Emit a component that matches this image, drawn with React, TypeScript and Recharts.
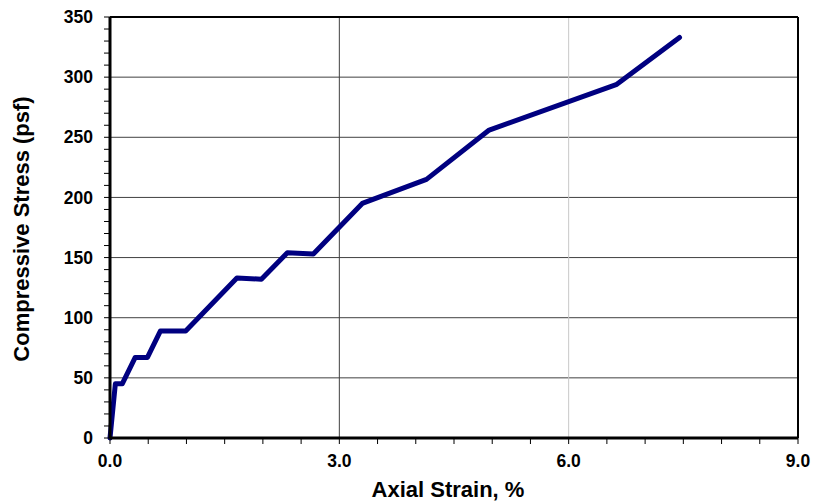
import React from 'react';
import { LineChart, Line, XAxis, YAxis, ReferenceLine, Label } from 'recharts';

// Unconfined compression test: axial strain (%) vs. compressive stress (psf)
const strainPct = [0, 0.07, 0.16, 0.33, 0.49, 0.66, 0.99, 1.66, 1.98, 2.32, 2.66, 3.3, 4.14, 4.96, 6.63, 7.45];
const stressPsf = [0, 45, 45, 67, 67, 89, 89, 133, 132, 154, 153, 195, 215, 256, 294, 333];

const xTicks = [0, 0.5, 1, 1.5, 2, 2.5, 3, 3.5, 4, 4.5, 5, 5.5, 6, 6.5, 7, 7.5, 8, 8.5, 9];
const xLabeled = [0, 3, 6, 9];
const yTicks = Array.from({ length: 36 }, (_, i) => i * 10);
const yLabeled = [0, 50, 100, 150, 200, 250, 300, 350];
const yGrid = [50, 100, 150, 200, 250, 300];

const data = strainPct.map((s, i) => ({ strain: s, stress: stressPsf[i] }));

const FONT = "Arial, 'Liberation Sans', sans-serif";
const tickStyle = { fill: '#000', fontSize: 17.5, fontWeight: 'bold', fontFamily: FONT };

export default function App() {
  return (
    <div style={{ position: 'absolute', left: 0, top: 0, background: '#fff' }}>
      <LineChart width={822} height={501} data={data} margin={{ top: 17, right: 24, bottom: 0, left: 0 }}>
        <XAxis
          dataKey="strain"
          type="number"
          domain={[0, 9]}
          ticks={xTicks}
          interval={0}
          tickFormatter={(v: number) => (xLabeled.includes(v) ? v.toFixed(1) : '')}
          tick={tickStyle}
          tickSize={6}
          tickMargin={11}
          tickLine={{ stroke: '#000', strokeWidth: 1 }}
          axisLine={{ stroke: '#000', strokeWidth: 3 }}
          height={63}
        >
          <Label
            content={() => (
              <text x={448} y={497} textAnchor="middle" fontFamily={FONT} fontWeight="bold" fontSize={22} fill="#000">
                Axial Strain, %
              </text>
            )}
          />
        </XAxis>
        <YAxis
          type="number"
          domain={[0, 350]}
          ticks={yTicks}
          interval={0}
          tickFormatter={(v: number) => (yLabeled.includes(v) ? String(v) : '')}
          tick={tickStyle}
          tickSize={6}
          tickMargin={11}
          tickLine={{ stroke: '#000', strokeWidth: 1 }}
          axisLine={{ stroke: '#000', strokeWidth: 3 }}
          width={110}
        >
          <Label
            content={() => (
              <text
                x={29}
                y={229}
                transform="rotate(-90 29 229)"
                textAnchor="middle"
                fontFamily={FONT}
                fontWeight="bold"
                fontSize={22}
                fill="#000"
              >
                Compressive Stress (psf)
              </text>
            )}
          />
        </YAxis>
        {yGrid.map((v) => (
          <ReferenceLine key={'h' + v} y={v} stroke="#404040" strokeWidth={1} ifOverflow="visible" />
        ))}
        <ReferenceLine x={3} stroke="#404040" strokeWidth={1} />
        <ReferenceLine x={6} stroke="#c8c8c8" strokeWidth={1} />
        <ReferenceLine y={350} stroke="#000" strokeWidth={2} />
        <ReferenceLine x={9} stroke="#000" strokeWidth={2} />
        <Line
          type="linear"
          dataKey="stress"
          stroke="#000080"
          strokeWidth={5}
          strokeLinecap="round"
          strokeLinejoin="round"
          dot={false}
          isAnimationActive={false}
        />
      </LineChart>
    </div>
  );
}
